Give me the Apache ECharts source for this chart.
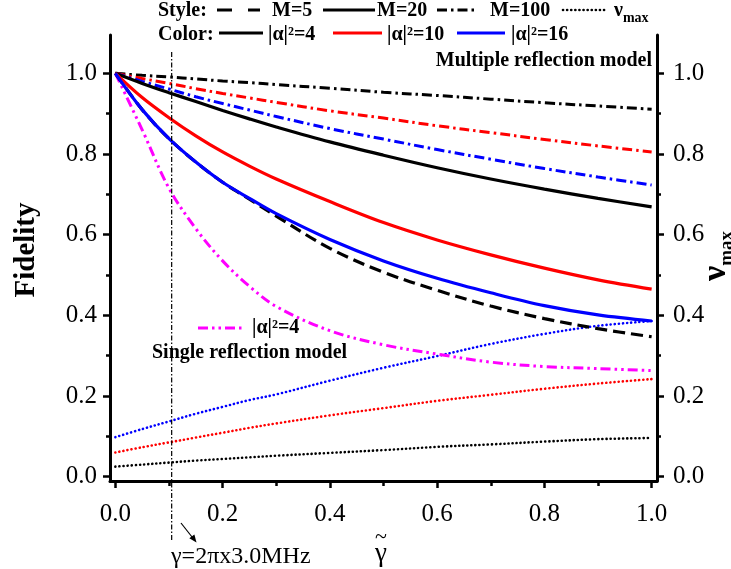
<!DOCTYPE html>
<html>
<head>
<meta charset="utf-8">
<script src="https://cdn.jsdelivr.net/npm/echarts@6/dist/echarts.min.js"></script>
<style>
  html, body { margin: 0; padding: 0; background: #fff; }
  #chart { width: 731px; height: 569px; }
</style>
</head>
<body>
<div id="chart"></div>
<script>
// Normalised decay rate (x axis)
const gammaTilde = [0, 0.05, 0.1, 0.15, 0.2, 0.25, 0.3, 0.4, 0.5, 0.6, 0.7, 0.8, 0.9, 1.0];

// Fidelity, multiple reflection model
const fidM100A4  = [1, 0.995, 0.991, 0.986, 0.981, 0.977, 0.972, 0.963, 0.953, 0.945, 0.936, 0.927, 0.919, 0.911];
const fidM100A10 = [1, 0.987, 0.975, 0.962, 0.950, 0.939, 0.928, 0.907, 0.889, 0.870, 0.853, 0.836, 0.820, 0.805];
const fidM100A16 = [1, 0.980, 0.961, 0.942, 0.925, 0.909, 0.893, 0.863, 0.837, 0.811, 0.787, 0.764, 0.743, 0.723];
const fidM20A4   = [1, 0.975, 0.952, 0.930, 0.908, 0.887, 0.867, 0.830, 0.797, 0.766, 0.738, 0.713, 0.690, 0.669];
const fidM20A10  = [1, 0.940, 0.890, 0.845, 0.805, 0.770, 0.738, 0.682, 0.630, 0.587, 0.550, 0.517, 0.488, 0.465];
const fidM20A16  = [1, 0.910, 0.838, 0.780, 0.730, 0.690, 0.652, 0.588, 0.535, 0.492, 0.456, 0.424, 0.401, 0.386];
const fidM5A4    = [1, 0.910, 0.838, 0.780, 0.730, 0.688, 0.646, 0.566, 0.507, 0.462, 0.423, 0.392, 0.367, 0.347];

// Fidelity, single reflection model
const fidSingleA4 = [1, 0.860, 0.715, 0.615, 0.535, 0.472, 0.422, 0.362, 0.327, 0.304, 0.284, 0.273, 0.268, 0.263];

// Maximum photon number (right axis)
const nuMaxA4  = [0.025, 0.030, 0.035, 0.040, 0.044, 0.048, 0.052, 0.059, 0.066, 0.074, 0.080, 0.087, 0.093, 0.096];
const nuMaxA10 = [0.060, 0.073, 0.085, 0.097, 0.109, 0.121, 0.132, 0.152, 0.170, 0.188, 0.203, 0.218, 0.231, 0.242];
const nuMaxA16 = [0.098, 0.118, 0.137, 0.156, 0.173, 0.190, 0.204, 0.238, 0.270, 0.299, 0.329, 0.354, 0.374, 0.386];

// Tick values
const majorTicks = [0, 0.2, 0.4, 0.6, 0.8, 1.0];
const minorTicks = [0.1, 0.3, 0.5, 0.7, 0.9];

// Marked decay rate, gamma = 2*pi*3.0 MHz
const markedGamma = 0.105;

const SERIF = '"Liberation Serif", "Times New Roman", serif';
const BLACK = '#000000', RED = '#ff0000', BLUE = '#0000ff', MAGENTA = '#ff00ff';

const DASH = [12, 6];
const DASHDOT = [10, 4, 2.5, 4];
const DASHDOTDOT = [10, 4, 2.5, 4, 2.5, 4];
const DOT = [0.1, 4];

const pairs = (ys) => gammaTilde.map((g, i) => [g, ys[i]]);

function curve(name, ys, color, dash, width, yAxisIndex, cap) {
  return {
    name, type: 'line', data: pairs(ys),
    xAxisIndex: 0, yAxisIndex: yAxisIndex || 0,
    showSymbol: false, smooth: 0.35,
    lineStyle: { color, width, type: dash || 'solid', cap: cap || 'butt' },
    emphasis: { disabled: true }, silent: true
  };
}

const X_MIN = -0.01, X_MAX = 1.01;
const Y_MIN = -0.0107, Y_MAX = 1.095;

function majorAxisY(position, labelMargin) {
  return {
    type: 'value', position, min: Y_MIN, max: Y_MAX,
    axisLine: { show: true, onZero: false, lineStyle: { color: BLACK, width: 3 } },
    axisTick: { show: true, inside: false, length: 7, customValues: majorTicks, lineStyle: { color: BLACK, width: 2.5 } },
    axisLabel: {
      show: true, customValues: majorTicks, margin: labelMargin,
      formatter: v => v.toFixed(1),
      fontFamily: SERIF, fontSize: 25, color: BLACK
    },
    splitLine: { show: false }
  };
}
function minorAxisY(position) {
  return {
    type: 'value', position, min: Y_MIN, max: Y_MAX,
    axisLine: { show: false, onZero: false },
    axisTick: { show: true, inside: false, length: 4, customValues: minorTicks, lineStyle: { color: BLACK, width: 2.5 } },
    axisLabel: { show: false },
    splitLine: { show: false }
  };
}

const chart = echarts.init(document.getElementById('chart'), null, { renderer: 'canvas' });

const option = {
  animation: false,
  backgroundColor: '#ffffff',
  grid: { left: 110, right: 74, top: 35, bottom: 88, containLabel: false },
  xAxis: [
    {
      type: 'value', position: 'bottom', min: X_MIN, max: X_MAX,
      axisLine: { show: true, onZero: false, lineStyle: { color: BLACK, width: 3 } },
      axisTick: { show: true, length: 7, customValues: majorTicks, lineStyle: { color: BLACK, width: 2.5 } },
      axisLabel: {
        show: true, customValues: majorTicks, margin: 21,
        formatter: v => v.toFixed(1),
        fontFamily: SERIF, fontSize: 25, color: BLACK
      },
      splitLine: { show: false }
    },
    {
      type: 'value', position: 'bottom', min: X_MIN, max: X_MAX,
      axisLine: { show: false, onZero: false },
      axisTick: { show: true, length: 5, customValues: minorTicks, lineStyle: { color: BLACK, width: 2.5 } },
      axisLabel: { show: false },
      splitLine: { show: false }
    }
  ],
  yAxis: [
    majorAxisY('left', 13),
    minorAxisY('left'),
    majorAxisY('right', 16),
    minorAxisY('right')
  ],
  series: [
    curve('nu_max |α|²=4', nuMaxA4, BLACK, DOT, 2.6, 2, 'round'),
    curve('nu_max |α|²=10', nuMaxA10, RED, DOT, 2.6, 2, 'round'),
    curve('nu_max |α|²=16', nuMaxA16, BLUE, DOT, 2.6, 2, 'round'),
    curve('single |α|²=4', fidSingleA4, MAGENTA, DASHDOTDOT, 3),
    curve('M=5 |α|²=4', fidM5A4, BLACK, DASH, 3.2),
    curve('M=100 |α|²=4', fidM100A4, BLACK, DASHDOT, 3),
    curve('M=100 |α|²=10', fidM100A10, RED, DASHDOT, 3),
    curve('M=100 |α|²=16', fidM100A16, BLUE, DASHDOT, 3),
    curve('M=20 |α|²=4', fidM20A4, BLACK, null, 3.2),
    curve('M=20 |α|²=10', fidM20A10, RED, null, 3.2),
    curve('M=20 |α|²=16', fidM20A16, BLUE, null, 3.2)
  ]
};
chart.setOption(option);

// ---- annotations: legends, axis titles, marker line ----
const boldFont = (size) => 'bold ' + size + 'px ' + SERIF;

function txt(x, y, text, size, opts) {
  opts = opts || {};
  return {
    type: 'text', x, y, silent: true, z: 10,
    style: {
      text, font: (opts.bold === false ? '' : 'bold ') + size + 'px ' + SERIF,
      fill: BLACK, align: opts.align || 'left', verticalAlign: 'middle'
    }
  };
}
function seg(x1, x2, y, color, dash, width, cap) {
  return {
    type: 'line', silent: true, z: 10,
    shape: { x1, y1: y, x2, y2: y },
    style: { stroke: color, lineWidth: width || 3, lineDash: dash || null, lineCap: cap || 'butt' }
  };
}

const nuRich = (bigSize, subSize) => ({
  nu: { font: 'bold ' + bigSize + 'px ' + SERIF, fill: BLACK, lineHeight: bigSize },
  sub: { font: 'bold ' + subSize + 'px ' + SERIF, fill: BLACK, verticalAlign: 'bottom', lineHeight: subSize, padding: [0, 0, -4, 0] }
});

const gx = chart.convertToPixel({ xAxisIndex: 0 }, markedGamma);

const graphics = [
  // row 1: line styles
  txt(158, 11, 'Style:', 20),
  seg(217, 260, 10, BLACK, [15, 16], 3),
  txt(272, 11, 'M=5', 20),
  seg(323, 375, 10, BLACK, null, 3),
  txt(377, 11, 'M=20', 20),
  seg(437, 478, 10, BLACK, DASHDOT, 3),
  txt(490, 11, 'M=100', 20),
  seg(563, 605, 10, BLACK, DOT, 2.6, 'round'),
  {
    type: 'text', x: 614, y: 11, silent: true, z: 10,
    style: { text: '{nu|ν}{sub|max}', rich: nuRich(20, 14), align: 'left', verticalAlign: 'middle' }
  },
  // row 2: colours
  txt(158, 35, 'Color:', 20),
  seg(219, 263, 33, BLACK, null, 3),
  txt(268, 35, '|α|²=4', 20),
  seg(333, 382, 33, RED, null, 3),
  txt(387, 35, '|α|²=10', 20),
  seg(457, 505, 33, BLUE, null, 3),
  txt(511, 35, '|α|²=16', 20),

  // model captions
  txt(652, 61, 'Multiple reflection model', 20, { align: 'right' }),
  seg(198, 242, 328, MAGENTA, DASHDOTDOT, 3),
  txt(252, 328, '|α|²=4', 20),
  txt(152, 353, 'Single reflection model', 20),

  // axis titles
  {
    type: 'text', x: 27, y: 250, rotation: Math.PI / 2, silent: true, z: 10,
    style: { text: 'Fidelity', font: boldFont(29), fill: BLACK, align: 'center', verticalAlign: 'middle' }
  },
  {
    type: 'text', x: 716, y: 256, rotation: Math.PI / 2, silent: true, z: 10,
    style: { text: '{nu|ν}{sub|max}', rich: nuRich(34, 19), align: 'center', verticalAlign: 'middle' }
  },
  {
    type: 'text', x: 381, y: 549, silent: true, z: 10,
    style: {
      text: '{t|~}\n{g|γ}', align: 'center', verticalAlign: 'middle',
      rich: {
        t: { font: '22px ' + SERIF, fill: BLACK, lineHeight: 10, align: 'center' },
        g: { font: '27px ' + SERIF, fill: BLACK, lineHeight: 24, align: 'center' }
      }
    }
  },

  // marked decay rate
  {
    type: 'line', silent: true, z: 5,
    shape: { x1: gx, y1: 52, x2: gx, y2: 542 },
    style: { stroke: BLACK, lineWidth: 1.2, lineDash: [5, 2, 1.5, 2] }
  },
  {
    type: 'line', silent: true, z: 10,
    shape: { x1: 181, y1: 523, x2: 194, y2: 539.5 },
    style: { stroke: BLACK, lineWidth: 1.2 }
  },
  {
    type: 'polygon', silent: true, z: 10,
    shape: { points: [[196.5, 542.5], [189.3, 538.2], [194.4, 534.4]] },
    style: { fill: BLACK }
  },
  txt(171, 557, 'γ=2πx3.0MHz', 24, { bold: false })
];

chart.setOption({ graphic: graphics });
</script>
</body>
</html>
